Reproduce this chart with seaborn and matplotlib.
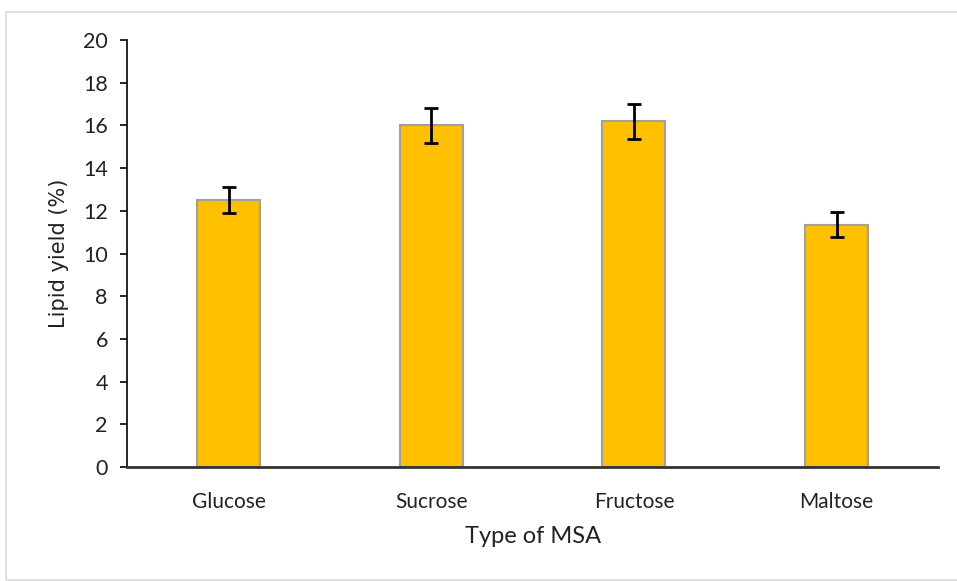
import matplotlib
matplotlib.use("Agg")
import matplotlib.pyplot as plt
import seaborn as sns
import pandas as pd
from matplotlib.patches import Rectangle

categories = ["Glucose", "Sucrose", "Fructose", "Maltose"]
values = [12.5, 16.0, 16.2, 11.35]
errors = [0.6, 0.82, 0.82, 0.58]
yticks = [0, 2, 4, 6, 8, 10, 12, 14, 16, 18, 20]

sns.set_theme(style="white")
plt.rcParams['font.family'] = ['Lato', 'DejaVu Sans']

df = pd.DataFrame({"cat": categories, "val": values})

fig = plt.figure(figsize=(9.57, 5.81), dpi=100)
ax = fig.add_axes([0.133, 0.196, 0.847, 0.735])

sns.barplot(data=df, x="cat", y="val", ax=ax, color="#FFC000", width=0.31,
            edgecolor="#A0A0A0", linewidth=1.5, saturation=1, errorbar=None)
ax.errorbar(range(len(categories)), values, yerr=errors, fmt="none",
            ecolor="black", elinewidth=2, capsize=5, capthick=2, zorder=5)

ax.set_ylim(0, 20)
ax.set_xlim(-0.5, 3.5)
ax.set_yticks(yticks)
ax.set_yticklabels([str(t) for t in yticks], fontsize=15.5)
ax.tick_params(axis="y", which="both", left=True, length=5, width=1.2, color="black", pad=9, labelcolor="#222222")
ax.tick_params(axis="x", bottom=False, labelsize=15, pad=12, labelcolor="#222222")
ax.set_xlabel("Type of MSA", fontsize=17, labelpad=10, color="#222222")
ax.set_ylabel("Lipid yield (%)", fontsize=15, labelpad=10, color="#222222",
              family=["DejaVu Sans"])

for s in ["top", "right"]:
    ax.spines[s].set_visible(False)
ax.spines["left"].set_color("black")
ax.spines["left"].set_linewidth(1.2)
ax.spines["bottom"].set_color("#333333")
ax.spines["bottom"].set_linewidth(2)

fig.patches.append(Rectangle((6/957, 0.002), 1.0, 1 - 12/581 - 0.002, transform=fig.transFigure,
                             fill=False, edgecolor="#D9D9D9", linewidth=1.2))

fig.savefig("out.png", dpi=100)
